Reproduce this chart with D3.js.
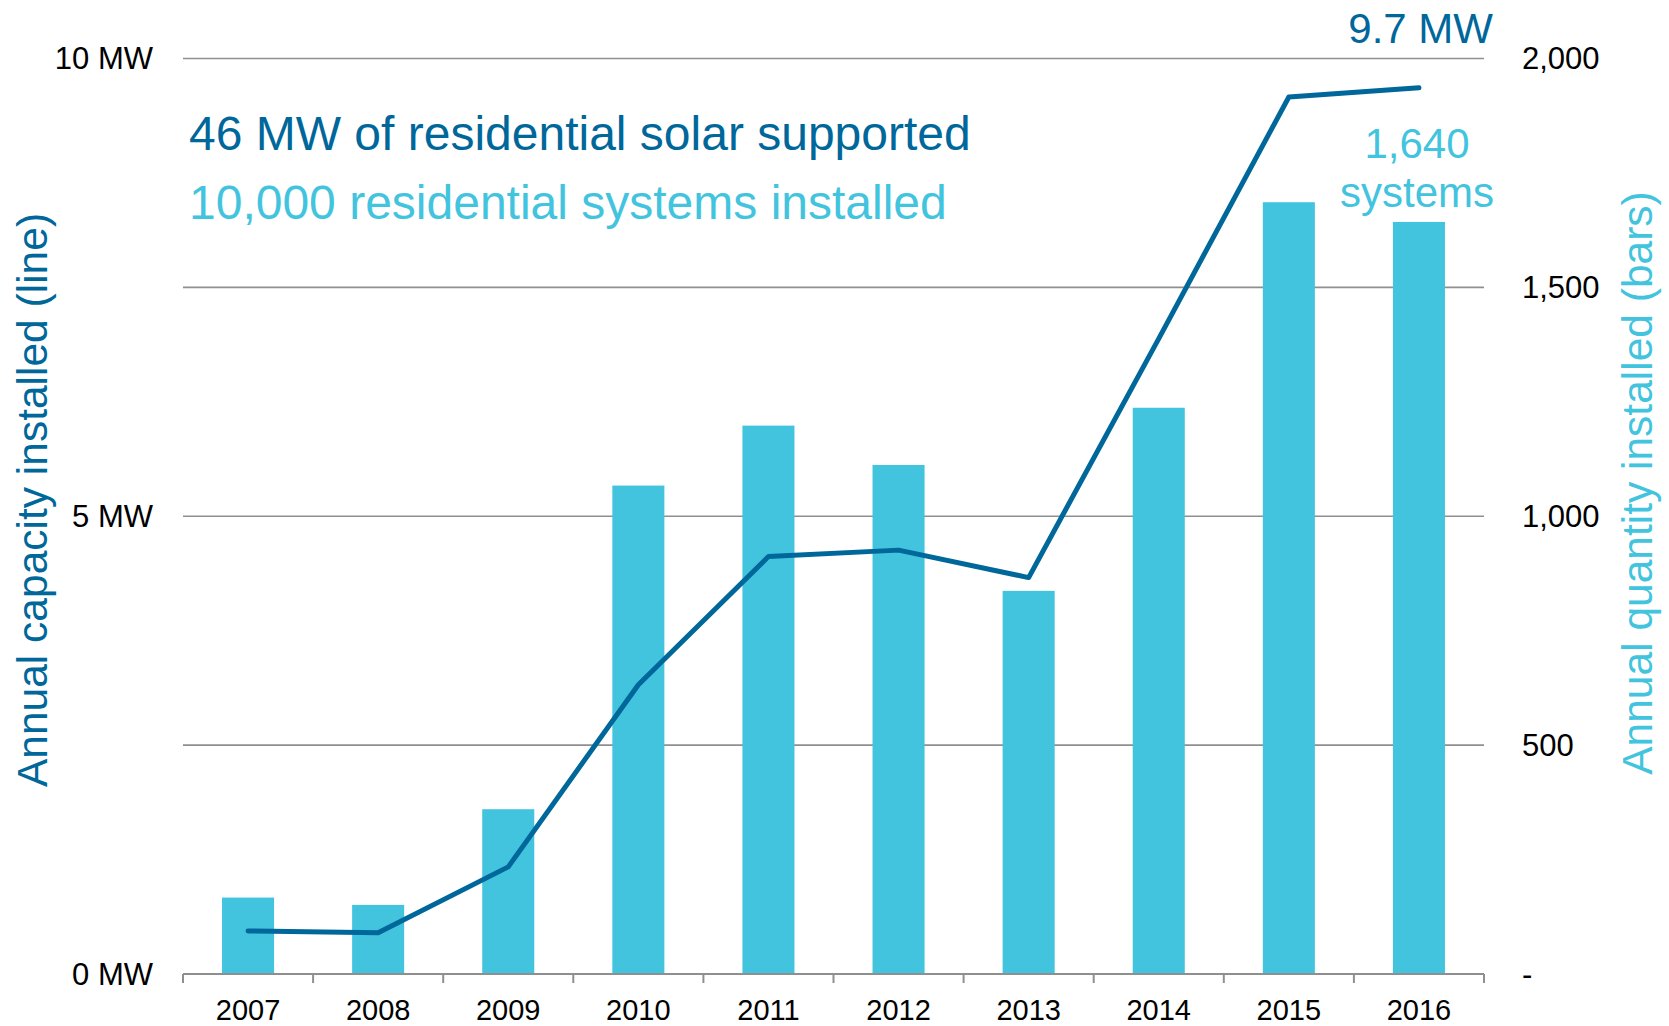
<!DOCTYPE html>
<html>
<head>
<meta charset="utf-8">
<script src="https://cdn.jsdelivr.net/npm/d3@7"></script>
<style>
  html, body { margin: 0; padding: 0; background: #fff; }
  svg { display: block; font-family: "Liberation Sans", Arial, Helvetica, sans-serif; }
</style>
</head>
<body>
<svg id="chart" width="1669" height="1026"></svg>
<script>
// ---- data ----
const years = ["2007", "2008", "2009", "2010", "2011", "2012", "2013", "2014", "2015", "2016"];
const systems = [167, 151, 360, 1067, 1198, 1112, 837, 1237, 1686, 1643];   // bars (right axis)
const capacityMW = [0.47, 0.45, 1.17, 3.16, 4.56, 4.63, 4.33, 6.94, 9.58, 9.68]; // line (left axis)
const leftTicks = [0, 5, 10];
const leftTickLabels = ["0 MW", "5 MW", "10 MW"];
const rightTicks = [0, 500, 1000, 1500, 2000];
const rightTickLabels = ["-", "500", "1,000", "1,500", "2,000"];
const gridTicks = [2.5, 5, 7.5, 10];

const lineColor = "#00679B";
const barColor = "#42C4DE";

const svg = d3.select("#chart");
const plot = { left: 183, right: 1484, top: 58.5, bottom: 974 };

const x = d3.scaleBand().domain(years).range([plot.left, plot.right])
  .paddingInner(0.6).paddingOuter(0.3);
const yL = d3.scaleLinear().domain([0, 10]).range([plot.bottom, plot.top]);
const yR = d3.scaleLinear().domain([0, 2000]).range([plot.bottom, plot.top]);

// gridlines
svg.append("g").selectAll("line").data(gridTicks).join("line")
  .attr("x1", plot.left).attr("x2", plot.right)
  .attr("y1", d => yL(d)).attr("y2", d => yL(d))
  .attr("stroke", "#8f8f8f").attr("stroke-width", 1.6);

// bars
svg.append("g").selectAll("rect").data(years).join("rect")
  .attr("x", d => x(d))
  .attr("width", x.bandwidth())
  .attr("y", (d, i) => yR(systems[i]))
  .attr("height", (d, i) => yR(0) - yR(systems[i]))
  .attr("fill", barColor);

// x axis line + boundary ticks
const step = x.step();
const bounds = years.map(d => x(d) + x.bandwidth() / 2 - step / 2).concat([x(years[years.length - 1]) + x.bandwidth() / 2 + step / 2]);
const ax = svg.append("g");
ax.append("line").attr("x1", plot.left).attr("x2", plot.right)
  .attr("y1", plot.bottom).attr("y2", plot.bottom)
  .attr("stroke", "#8f8f8f").attr("stroke-width", 2);
ax.selectAll("line.tk").data(bounds).join("line").attr("class", "tk")
  .attr("x1", d => d).attr("x2", d => d)
  .attr("y1", plot.bottom).attr("y2", plot.bottom + 9)
  .attr("stroke", "#8f8f8f").attr("stroke-width", 2);
ax.selectAll("text").data(years).join("text")
  .attr("x", d => x(d) + x.bandwidth() / 2)
  .attr("y", 1020)
  .attr("text-anchor", "middle")
  .attr("font-size", 29)
  .attr("fill", "#000")
  .text(d => d);

// line
const line = d3.line()
  .x((d, i) => x(years[i]) + x.bandwidth() / 2)
  .y(d => yL(d));
svg.append("path").datum(capacityMW)
  .attr("d", line)
  .attr("fill", "none")
  .attr("stroke", lineColor)
  .attr("stroke-width", 5)
  .attr("stroke-linejoin", "round")
  .attr("stroke-linecap", "round");

// left tick labels
svg.append("g").selectAll("text").data(leftTicks).join("text")
  .attr("x", 153)
  .attr("y", d => yL(d))
  .attr("dy", "0.35em")
  .attr("text-anchor", "end")
  .attr("font-size", 31)
  .attr("fill", "#000")
  .text((d, i) => leftTickLabels[i]);

// right tick labels
svg.append("g").selectAll("text").data(rightTicks).join("text")
  .attr("x", 1522)
  .attr("y", d => yR(d))
  .attr("dy", "0.35em")
  .attr("text-anchor", "start")
  .attr("font-size", 31)
  .attr("fill", "#000")
  .text((d, i) => rightTickLabels[i]);

// axis titles
svg.append("text")
  .attr("transform", "translate(47,500) rotate(-90)")
  .attr("text-anchor", "middle")
  .attr("font-size", 42.5)
  .attr("fill", lineColor)
  .text("Annual capacity installed (line)");
svg.append("text")
  .attr("transform", "translate(1652,483) rotate(-90)")
  .attr("text-anchor", "middle")
  .attr("font-size", 42.5)
  .attr("fill", barColor)
  .text("Annual quantity installed (bars)");

// headline annotations
svg.append("text").attr("x", 189).attr("y", 150)
  .attr("font-size", 48).attr("fill", lineColor)
  .text("46 MW of residential solar supported");
svg.append("text").attr("x", 189).attr("y", 219)
  .attr("font-size", 48).attr("fill", barColor)
  .text("10,000 residential systems installed");

// end annotations
svg.append("text").attr("x", 1493).attr("y", 43)
  .attr("text-anchor", "end").attr("font-size", 42).attr("fill", lineColor)
  .text("9.7 MW");
svg.append("text").attr("x", 1417).attr("y", 158)
  .attr("text-anchor", "middle").attr("font-size", 42).attr("fill", barColor)
  .text("1,640");
svg.append("text").attr("x", 1417).attr("y", 207)
  .attr("text-anchor", "middle").attr("font-size", 42).attr("fill", barColor)
  .text("systems");
</script>
</body>
</html>
